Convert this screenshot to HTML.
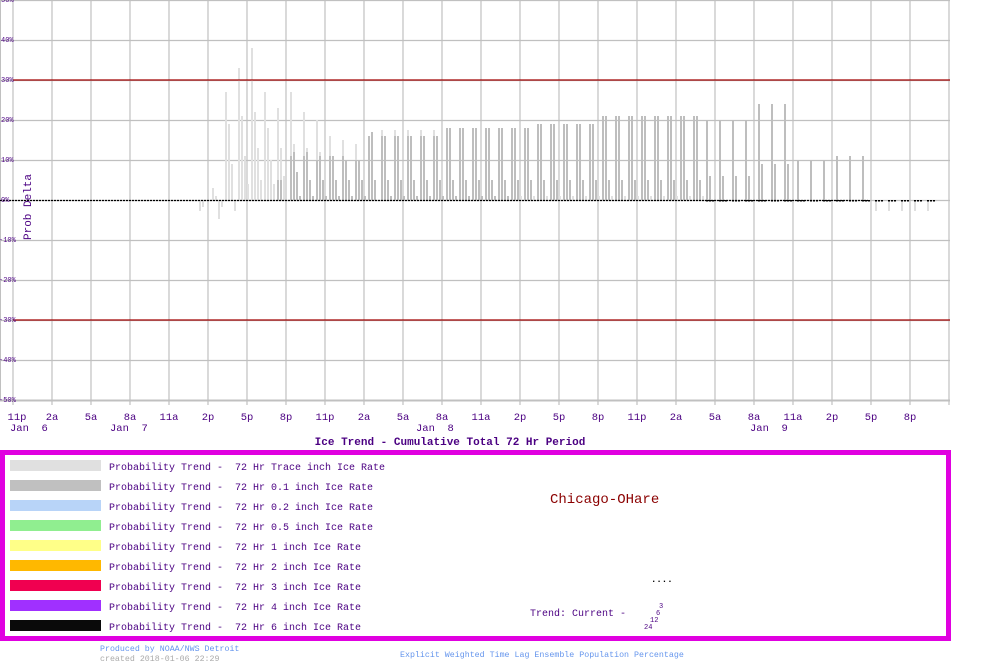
<!DOCTYPE html>
<html><head><meta charset="utf-8"><style>
body{margin:0;background:#fff;width:1000px;height:670px;overflow:hidden}
svg{display:block}
text{white-space:pre}
</style></head><body>
<svg id="s" width="1000" height="670" xmlns="http://www.w3.org/2000/svg" font-family="Liberation Mono, monospace">
<g id="grid"></g>
<g id="bars"></g>
<line x1="13" y1="80" x2="950" y2="80" stroke="#a00000" stroke-width="1.3"/>
<line x1="13" y1="320" x2="950" y2="320" stroke="#a00000" stroke-width="1.3"/>
<line x1="0" y1="200.5" x2="868" y2="200.5" stroke="#000" stroke-dasharray="2,1" stroke-width="1.2"/>
<g id="ylab" font-size="7" fill="#4b0082"></g>
<text transform="translate(31,240) rotate(-90)" font-size="11" fill="#4b0082">Prob Delta</text>
<g id="xlab" font-size="10.5" fill="#4b0082" text-anchor="middle"></g>
<g font-size="10.5" fill="#4b0082">
<text x="10" y="431">Jan  6</text><text x="110" y="431">Jan  7</text>
<text x="416" y="431">Jan  8</text><text x="750" y="431">Jan  9</text>
</g>
<text x="450" y="445" font-size="11" font-weight="bold" fill="#4b0082" text-anchor="middle">Ice Trend - Cumulative Total 72 Hr Period</text>
<rect x="2.5" y="452.5" width="946" height="186" fill="none" stroke="#e000e0" stroke-width="5"/>
<g id="leg" font-size="10" fill="#4b0082"></g>
<text x="550" y="503" font-size="14" fill="#8b0000">Chicago-OHare</text>
<text x="651" y="582" font-size="9" font-weight="bold" fill="#000">....</text>
<text x="530" y="616" font-size="10" fill="#4b0082">Trend: Current -</text>
<g font-size="7" fill="#4b0082"><text x="659" y="608">3</text><text x="656" y="615">6</text><text x="650" y="622">12</text><text x="644" y="629">24</text></g>
<text x="100" y="651" font-size="8.3" fill="#6495ed">Produced by NOAA/NWS Detroit</text>
<text x="100" y="661" font-size="8.3" fill="#aaaaaa">created 2018-01-06 22:29</text>
<text x="400" y="657" font-size="8.3" fill="#6495ed">Explicit Weighted Time Lag Ensemble Population Percentage</text>
</svg>
<script>
const NS="http://www.w3.org/2000/svg";
function el(p,t,a,txt){const e=document.createElementNS(NS,t);for(const k in a)e.setAttribute(k,a[k]);if(txt!=null)e.textContent=txt;document.getElementById(p).appendChild(e);return e;}
for(let i=0;i<=10;i++){el("grid","line",{x1:0,x2:950,y1:i*40+0.5,y2:i*40+0.5,stroke:"#c0c0c0","stroke-width":i==10?2:1.2});}
el("grid","line",{x1:0.5,x2:0.5,y1:0,y2:400,stroke:"#c0c0c0"});
const xl=["11p","2a","5a","8a","11a","2p","5p","8p"];
for(let i=0;i<25;i++){const x=13+39*i;el("grid","line",{x1:x,x2:x,y1:0,y2:405,stroke:"#c0c0c0","stroke-width":1.2});
 if(i<24)el("xlab","text",{x:x+(i==0?4:0),y:420},xl[i%8]);}
const yl=["50%","40%","30%","20%","10%","0%","-10%","-20%","-30%","-40%","-50%"];
yl.forEach((t,i)=>el("ylab","text",{x:t[0]=="-"?-1:1,y:i*40+2},t));
const C={
14:[[-2.5,-1.5,0,0],[]],15:[[3,1,-4.5,-1.5],[]],16:[[27,19,9,-2.5],[]],17:[[33,21,11,4],[]],
18:[[38,22,13,5],[]],19:[[27,18,10,4],[]],20:[[23,13,6,0],[5,5,0,0]],21:[[27,14,7,1],[11,12,7,1]],
22:[[22,13,5,1],[11,12,5,1]],23:[[20,12,5,1],[10,11,5,1]],24:[[16,11,5,1],[11,11,5,1]],
25:[[15,10,5,1],[11,10,5,1]],26:[[14,10,5,1],[10,10,5,1]],27:[[16,17,5,0],[16,17,5,0]]};
for(let k=28;k<=52;k++){let a=k<33?16:k<40?18:k<45?19:21;let l=k<33?a+1.5:a;C[k]=[[l,a,5,1],[a,a,5,k<38?1:0]];}
for(let k=53;k<=56;k++)C[k]=[[],[20,6,0,0]];
for(let k=57;k<=59;k++)C[k]=[[],[24,9,0,0]];
for(let k=60;k<=62;k++)C[k]=[[],[10,0,0,0]];
for(let k=63;k<=65;k++)C[k]=[[],[11,0,0,0]];
for(let k=66;k<=70;k++)C[k]=[[-2.5,0,0,0],[0,0,0,0]];
for(const k in C){const x0=17+13*k;const[L,D]=C[k];
 L.forEach((v,j)=>{if(!v)return;const h=Math.abs(v)*4;el("bars","rect",{x:x0+3*j,y:v>0?200-h:201,width:2,height:h,fill:"#e0e0e0"});});
 D.forEach((v,j)=>{if(!v)return;const h=Math.abs(v)*4;el("bars","rect",{x:x0+3*j,y:v>0?200-h:201,width:2,height:h,fill:"#bebebe"});});
 if(k>=53)for(let j=0;j<3;j++)el("bars","rect",{x:x0+3*j,y:200,width:2,height:1.5,fill:"#000"});}
const cols=["#e0e0e0","#c0c0c0","#b8d4f8","#90ee90","#ffff88","#ffb800","#f00050","#a030ff","#0a0a0a"];
const nm=["Trace","0.1","0.2","0.5","1","2","3","4","6"];
cols.forEach((c,i)=>{const y=460+20*i;el("leg","rect",{x:10,y:y,width:91,height:11,fill:c});
 el("leg","text",{x:109,y:y+10},"Probability Trend -  72 Hr "+nm[i]+" inch Ice Rate");});
</script>
</body></html>
